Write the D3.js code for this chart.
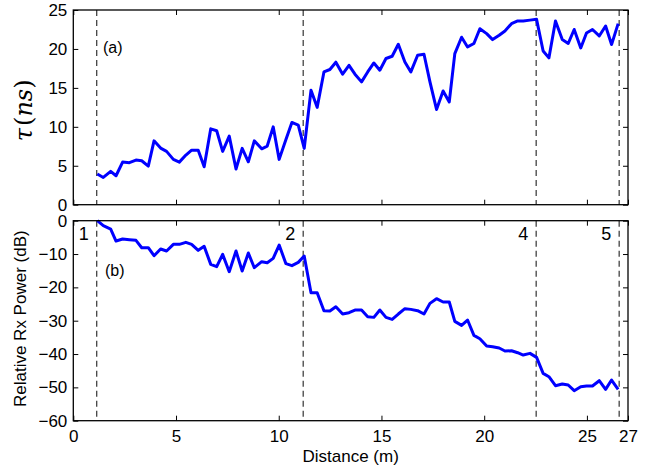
<!DOCTYPE html>
<html lang="en">
<head>
    <meta charset="UTF-8">
    <title>Delay spread and relative Rx power vs distance</title>
    <script src="https://d3js.org/d3.v7.min.js"></script>
    <style>
        body { margin: 0; background: #fff; }
        svg { display: block; font-family: "Liberation Sans", Arial, sans-serif; }
        .tick text { font-size: 17px; fill: #000; }
        .tick line { stroke: #000; }
    </style>
</head>
<body>
    <div id="chart"></div>
    <script>
        // measurement positions (m)
        const distance = [
            1.17, 1.46, 1.82, 2.08, 2.40, 2.73, 3.05, 3.33, 3.65, 3.93,
            4.25, 4.54, 4.87, 5.16, 5.48, 5.76, 6.08, 6.37, 6.69, 6.98,
            7.27, 7.59, 7.92, 8.22, 8.52, 8.81, 9.17, 9.44, 9.73, 10.02,
            10.35, 10.64, 10.95, 11.24, 11.57, 11.87, 12.20, 12.49, 12.78, 13.11,
            13.42, 13.71, 14.03, 14.33, 14.63, 14.92, 15.22, 15.52, 15.82, 16.14,
            16.43, 16.76, 17.07, 17.36, 17.68, 18.00, 18.30, 18.57, 18.90, 19.19,
            19.50, 19.79, 20.12, 20.41, 20.73, 21.01, 21.33, 21.63, 21.90, 22.23,
            22.55, 22.87, 23.15, 23.47, 23.80, 24.09, 24.38, 24.70, 24.98, 25.27,
            25.60, 25.91, 26.20, 26.52
        ];
        // (a) rms delay spread, ns
        const tau = [
            3.94, 3.5, 4.28, 3.72, 5.47, 5.4, 5.73, 5.64, 4.96, 8.2,
            7.27, 6.85, 5.82, 5.47, 6.37, 7.0, 7.0, 4.87, 9.74, 9.49,
            6.85, 8.8, 4.58, 7.23, 5.51, 8.2, 7.18, 7.53, 10.0, 5.82,
            8.38, 10.56, 10.22, 7.23, 14.7, 12.5, 17.05, 17.36, 18.3, 16.76,
            17.9, 16.76, 15.77, 17.05, 18.2, 17.27, 18.77, 19.06, 20.6, 18.33,
            17.05, 19.19, 19.32, 15.77, 12.23, 14.6, 13.2, 19.4, 21.5, 20.26,
            20.7, 22.6, 21.97, 21.2, 21.75, 22.3, 23.25, 23.6, 23.6, 23.7,
            23.8, 19.74, 18.85, 23.6, 21.2, 20.7, 22.5, 20.13, 22.05, 22.5,
            21.67, 22.95, 20.56, 23.25
        ];
        // (b) relative received power, dB
        const power = [
            0, -1.5, -2.5, -6.1, -5.5, -5.7, -5.9, -8.1, -8.1, -10.5,
            -8.5, -9.1, -7.1, -7.1, -6.5, -7.1, -8.9, -7.7, -13.1, -13.8,
            -10.1, -15.3, -9.1, -15.1, -9.7, -14.1, -12.3, -12.6, -11.3, -7.3,
            -12.9, -13.5, -12.5, -10.6, -21.6, -21.6, -27.0, -27.1, -25.8, -28.0,
            -27.6, -26.8, -26.8, -28.8, -29.0, -26.8, -29.0, -29.6, -28.0, -26.4,
            -26.6, -27.0, -28.0, -24.8, -23.4, -24.4, -24.4, -30.2, -31.4, -29.8,
            -34.4, -35.4, -37.6, -37.8, -38.2, -39.1, -39.0, -39.6, -40.3, -39.8,
            -41.0, -45.8, -46.8, -49.5, -49.0, -49.3, -51.0, -49.8, -49.6, -49.6,
            -48.0, -50.6, -47.8, -50.6
        ];
        // region boundaries and their labels
        const boundaries = [1.14, 11.19, 22.53, 26.57];
        const regionLabels = ["1", "2", "4", "5"];

        const xTicks = [0, 5, 10, 15, 20, 25, 27];
        const tauTicks = [0, 5, 10, 15, 20, 25];
        const powerTicks = [0, -10, -20, -30, -40, -50, -60];

        const W = 645, H = 467;
        const left = 73.3, right = 628;
        const topA = 10, botA = 204.7;
        const topB = 220.7, botB = 420.7;

        const svg = d3.select("#chart").append("svg")
            .attr("width", W)
            .attr("height", H);

        const x = d3.scaleLinear().domain([0, 27]).range([left, right]);
        const yA = d3.scaleLinear().domain([0, 25]).range([botA, topA]);
        const yB = d3.scaleLinear().domain([-60, 0]).range([botB, topB]);

        function panel(y, yTicks, top, bot, values, showX) {
            const g = svg.append("g");

            // dashed region boundaries
            g.selectAll(".bound")
                .data(boundaries)
                .enter()
                .append("line")
                .attr("x1", d => x(d))
                .attr("x2", d => x(d))
                .attr("y1", top)
                .attr("y2", bot)
                .attr("stroke", "#333")
                .attr("stroke-width", 1.2)
                .attr("stroke-dasharray", "6,4");

            // inward ticks on all four sides (matlab box)
            g.append("g")
                .attr("transform", `translate(0,${bot})`)
                .call(d3.axisBottom(x).tickValues(xTicks).tickSizeInner(-5).tickSizeOuter(0)
                    .tickPadding(9).tickFormat(showX ? d3.format("d") : () => ""))
                .call(a => a.select(".domain").remove());
            g.append("g")
                .attr("transform", `translate(0,${top})`)
                .call(d3.axisTop(x).tickValues(xTicks).tickSizeInner(-5).tickSizeOuter(0).tickFormat(() => ""))
                .call(a => a.select(".domain").remove());
            g.append("g")
                .attr("transform", `translate(${left},0)`)
                .call(d3.axisLeft(y).tickValues(yTicks).tickSizeInner(-5).tickSizeOuter(0).tickPadding(6))
                .call(a => a.select(".domain").remove());
            g.append("g")
                .attr("transform", `translate(${right},0)`)
                .call(d3.axisRight(y).tickValues(yTicks).tickSizeInner(-5).tickSizeOuter(0).tickFormat(() => ""))
                .call(a => a.select(".domain").remove());

            g.append("path")
                .datum(distance.map((d, i) => [d, values[i]]))
                .attr("fill", "none")
                .attr("stroke", "#0000ff")
                .attr("stroke-width", 3)
                .attr("stroke-linejoin", "round")
                .attr("d", d3.line().x(d => x(d[0])).y(d => y(d[1])));

            g.append("rect")
                .attr("x", left)
                .attr("y", top)
                .attr("width", right - left)
                .attr("height", bot - top)
                .attr("fill", "none")
                .attr("stroke", "#000")
                .attr("stroke-width", 1.3);
            return g;
        }

        const gA = panel(yA, tauTicks, topA, botA, tau, false);
        const gB = panel(yB, powerTicks, topB, botB, power, true);

        gA.append("text")
            .attr("x", 103)
            .attr("y", 53)
            .attr("font-size", 16)
            .text("(a)");

        gB.append("text")
            .attr("x", 105)
            .attr("y", 276)
            .attr("font-size", 16)
            .text("(b)");

        gB.selectAll(".region")
            .data(boundaries)
            .enter()
            .append("text")
            .attr("x", d => x(d) - 8)
            .attr("y", 240)
            .attr("text-anchor", "end")
            .attr("font-size", 18)
            .text((d, i) => regionLabels[i]);

        // axis labels
        const tauLabel = svg.append("text")
            .attr("transform", `translate(32,${(topA + botA) / 2 + 3}) rotate(-90)`)
            .attr("text-anchor", "middle")
            .attr("font-family", "'DejaVu Serif', 'Liberation Serif', serif")
            .attr("font-size", 24);
        tauLabel.append("tspan").attr("font-style", "italic").text("τ");
        tauLabel.append("tspan").attr("dx", 2).text("(");
        tauLabel.append("tspan").attr("font-style", "italic").text("ns");
        tauLabel.append("tspan").text(")");

        svg.append("text")
            .attr("transform", `translate(26,${(topB + botB) / 2 - 2}) rotate(-90)`)
            .attr("text-anchor", "middle")
            .attr("font-size", 17)
            .text("Relative Rx Power (dB)");

        svg.append("text")
            .attr("x", (left + right) / 2)
            .attr("y", 462)
            .attr("text-anchor", "middle")
            .attr("font-size", 17)
            .text("Distance (m)");
    </script>
</body>
</html>
